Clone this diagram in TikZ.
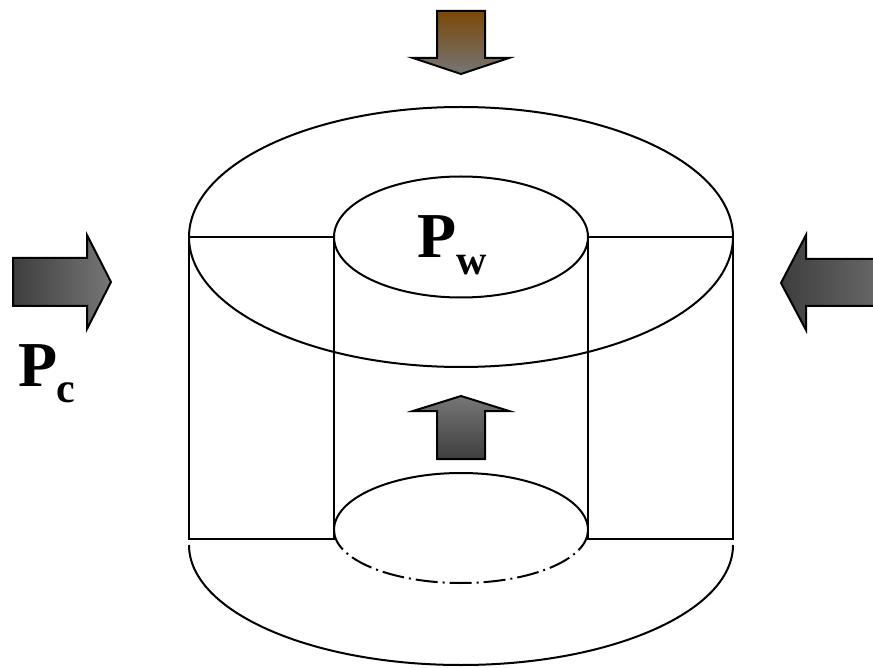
\documentclass[tikz,border=0pt]{standalone}
\usepackage{fontspec}
\setmainfont{Liberation Serif}
\definecolor{darkgr}{RGB}{62,62,62}
\definecolor{midgr}{RGB}{118,118,118}
\definecolor{brownc}{RGB}{122,72,8}
\tikzset{
  ln/.style={draw=black,line width=2pt},
  arrowshape/.style={draw=black,line width=2pt,line join=miter,miter limit=10},
  bigP/.style={inner sep=0pt,anchor=base west,font=\fontsize{64}{64}\selectfont\bfseries},
  subs/.style={inner sep=0pt,anchor=base west,font=\fontsize{42}{42}\selectfont\bfseries}
}
\begin{document}
\begin{tikzpicture}[x=1pt,y=-1pt]
\useasboundingbox (0,0) rectangle (873,668);
% arrows
\path[arrowshape,top color=brownc,bottom color=midgr] (437,11) -- (485,11) -- (485,58) -- (509,58) -- (461,74) -- (413,58) -- (437,58) -- cycle;
\path[arrowshape,left color=darkgr,right color=midgr] (13,258) -- (87,258) -- (87,235) -- (111,282) -- (87,329) -- (87,306) -- (13,306) -- cycle;
\path[arrowshape,left color=darkgr,right color=midgr!110] (880,259) -- (806,259) -- (806,235) -- (781,283) -- (806,330) -- (806,306) -- (880,306) -- cycle;
\path[arrowshape,top color=midgr,bottom color=darkgr] (437,459) -- (485,459) -- (485,411) -- (509,411) -- (461,396) -- (413,411) -- (437,411) -- cycle;
% cylinder
\draw[ln] (461,237) ellipse [x radius=272,y radius=130];
\draw[ln] (461,237) ellipse [x radius=127,y radius=60.5];
\draw[ln] (189,237) -- (334,237);
\draw[ln] (588,237) -- (733,237);
\draw[ln] (189,237) -- (189,539) -- (334,539) -- (334,237);
\draw[ln] (733,237) -- (733,539) -- (588,539) -- (588,237);
\draw[ln] (334,530) arc [start angle=180,end angle=360,x radius=127,y radius=57];
\draw[ln,dash pattern=on 22pt off 5pt on 2pt off 5pt] (334,530) arc [start angle=180,end angle=0,x radius=127,y radius=53];
\draw[ln] (189,545) arc [start angle=180,end angle=0,x radius=272,y radius=120];
% labels
\node[bigP] (pw) at (417,258) {P};
\node[subs] (w) at (456,275) {w};
\node[bigP] (pc) at (18,386) {P};
\node[subs] (c) at (56,402) {c};
\end{tikzpicture}
\end{document}
